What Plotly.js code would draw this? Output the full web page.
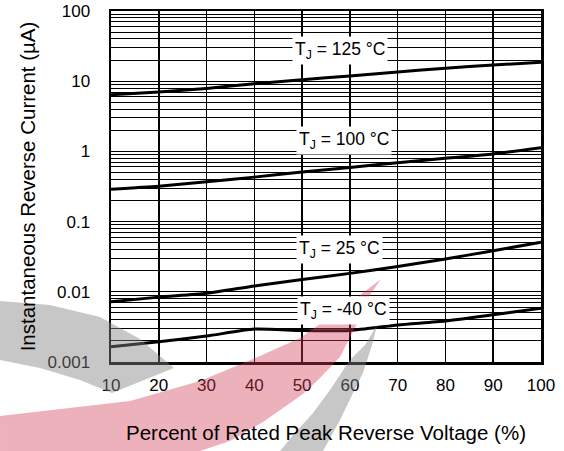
<!DOCTYPE html>
<html>
<head>
<meta charset="utf-8">
<script src="https://cdn.plot.ly/plotly-3.0.1.min.js"></script>
<style>html,body{margin:0;padding:0;background:#fff;}#chart{width:564px;height:451px;}</style>
</head>
<body>
<div id="chart"></div>
<script>
// ---- data ----
const voltagePct = [10, 20, 30, 40, 50, 60, 70, 80, 90, 100];
const current125 = [6.4, 7.0, 7.9, 9.2, 10.5, 11.9, 13.5, 15.3, 17.0, 18.6];
const current100 = [0.29, 0.32, 0.37, 0.43, 0.51, 0.59, 0.69, 0.80, 0.92, 1.13];
const current25  = [0.0072, 0.0084, 0.0095, 0.0121, 0.0150, 0.0183, 0.0229, 0.0293, 0.0385, 0.0507];
const currentM40 = [0.00165, 0.00195, 0.00234, 0.00295, 0.00280, 0.00282, 0.00337, 0.00384, 0.0047, 0.00582];
const seriesLabels = ['T<sub>J</sub> = 125 °C', 'T<sub>J</sub> = 100 °C', 'T<sub>J</sub> = 25 °C', 'T<sub>J</sub> = -40 °C'];
const xTickVals = [10, 20, 30, 40, 50, 60, 70, 80, 90, 100];
const yDecadeText = ['0.001', '0.01', '0.1', '1', '10', '100'];

// grid lines at every 1..9 x decade, labels only on decades
const yGridVals = [];
const yGridText = [];
for (let d = -3; d <= 1; d++) {
  for (let m = 1; m <= 9; m++) {
    yGridVals.push(m * Math.pow(10, d));
    yGridText.push(m === 1 ? yDecadeText[d + 3] : '');
  }
}
yGridVals.push(100); yGridText.push('100');

const FONT = 'Liberation Sans, Arial, Helvetica, sans-serif';
const allSeries = [current125, current100, current25, currentM40];
const traces = allSeries.map((ys, i) => ({
  x: voltagePct, y: ys, type: 'scatter', mode: 'lines',
  line: {color: '#000', width: 3, shape: 'spline', smoothing: 0.6},
  hoverinfo: 'skip', showlegend: false, name: seriesLabels[i]
}));

// label anchor positions (data coords)
const labelX = [57.9, 58.7, 57.9, 58.7];
const labelY = [27.4, 1.43, 0.0407, 0.00542];
const annotations = seriesLabels.map((t, i) => ({
  x: labelX[i], y: Math.log10(labelY[i]), xref: 'x', yref: 'y',
  text: t, showarrow: false, bgcolor: '#fff', borderpad: 2,
  font: {family: FONT, size: 17.5, color: '#000'}
}));

// watermark decoration (pixel -> paper)
const L = 111, T = 11, W = 430, H = 351;
function P(px, py) { return ((px - L) / W).toFixed(4) + ',' + ((T + H - py) / H).toFixed(4); }
function path(pts) { return 'M' + pts.map(p => P(p[0], p[1])).join(' L') + ' Z'; }
const greyLeft = [[0,301],[50,305],[100,317],[140,339],[174,368],[112,393],[80,380],[40,368],[0,360]];
const redSwoosh = [[0,416],[130,401],[200,381],[260,356],[300,338],[330,317],[355,299],[381,279],
                   [370,295],[363,313],[350,337],[340,357],[320,378],[303,394],[263,422],[230,441],[200,451],[0,451]];
const greyRight = [[377,325],[365,345],[350,360],[330,390],[313,413],[295,433],[280,451],[323,451],[340,420],[352,395],[363,373],[372,345]];
const shapes = [
  {type: 'path', xref: 'paper', yref: 'paper', path: path(greyLeft), fillcolor: 'rgba(130,130,130,0.45)', line: {width: 0}, layer: 'above'},
  {type: 'path', xref: 'paper', yref: 'paper', path: path(redSwoosh), fillcolor: 'rgba(210,60,85,0.4)', line: {width: 0}, layer: 'above'},
  {type: 'path', xref: 'paper', yref: 'paper', path: path(greyRight), fillcolor: 'rgba(130,130,130,0.45)', line: {width: 0}, layer: 'above'}
];

const layout = {
  width: 564, height: 451,
  margin: {l: L, r: 564 - L - W, t: T, b: 451 - T - H},
  paper_bgcolor: '#fff', plot_bgcolor: '#fff',
  font: {family: FONT, size: 17, color: '#000'},
  showlegend: false,
  xaxis: {
    range: [10, 100], tickvals: xTickVals, ticktext: xTickVals.map(String),
    showgrid: true, gridcolor: '#000', gridwidth: 1.5, zeroline: false,
    showline: true, mirror: true, linecolor: '#000', linewidth: 2.5,
    ticks: 'outside', ticklen: 6, tickcolor: 'rgba(0,0,0,0)',
    tickfont: {family: FONT, size: 17, color: '#000'},
    automargin: false,
    title: {text: 'Percent of Rated Peak Reverse Voltage (%)', font: {family: FONT, size: 20.5, color: '#000'}, standoff: 32}
  },
  yaxis: {
    type: 'log', range: [-3, 2], tickvals: yGridVals, ticktext: yGridText,
    showgrid: true, gridcolor: '#000', gridwidth: 1, zeroline: false,
    showline: true, mirror: true, linecolor: '#000', linewidth: 2.5,
    ticks: 'outside', ticklen: 15, tickcolor: 'rgba(0,0,0,0)',
    tickfont: {family: FONT, size: 17, color: '#000'},
    automargin: false,
    title: {text: 'Instantaneous Reverse Current (µA)', font: {family: FONT, size: 20.5, color: '#000'}, standoff: 7}
  },
  annotations: annotations,
  shapes: shapes
};

Plotly.newPlot('chart', traces, layout, {staticPlot: true, displayModeBar: false});
</script>
</body>
</html>
